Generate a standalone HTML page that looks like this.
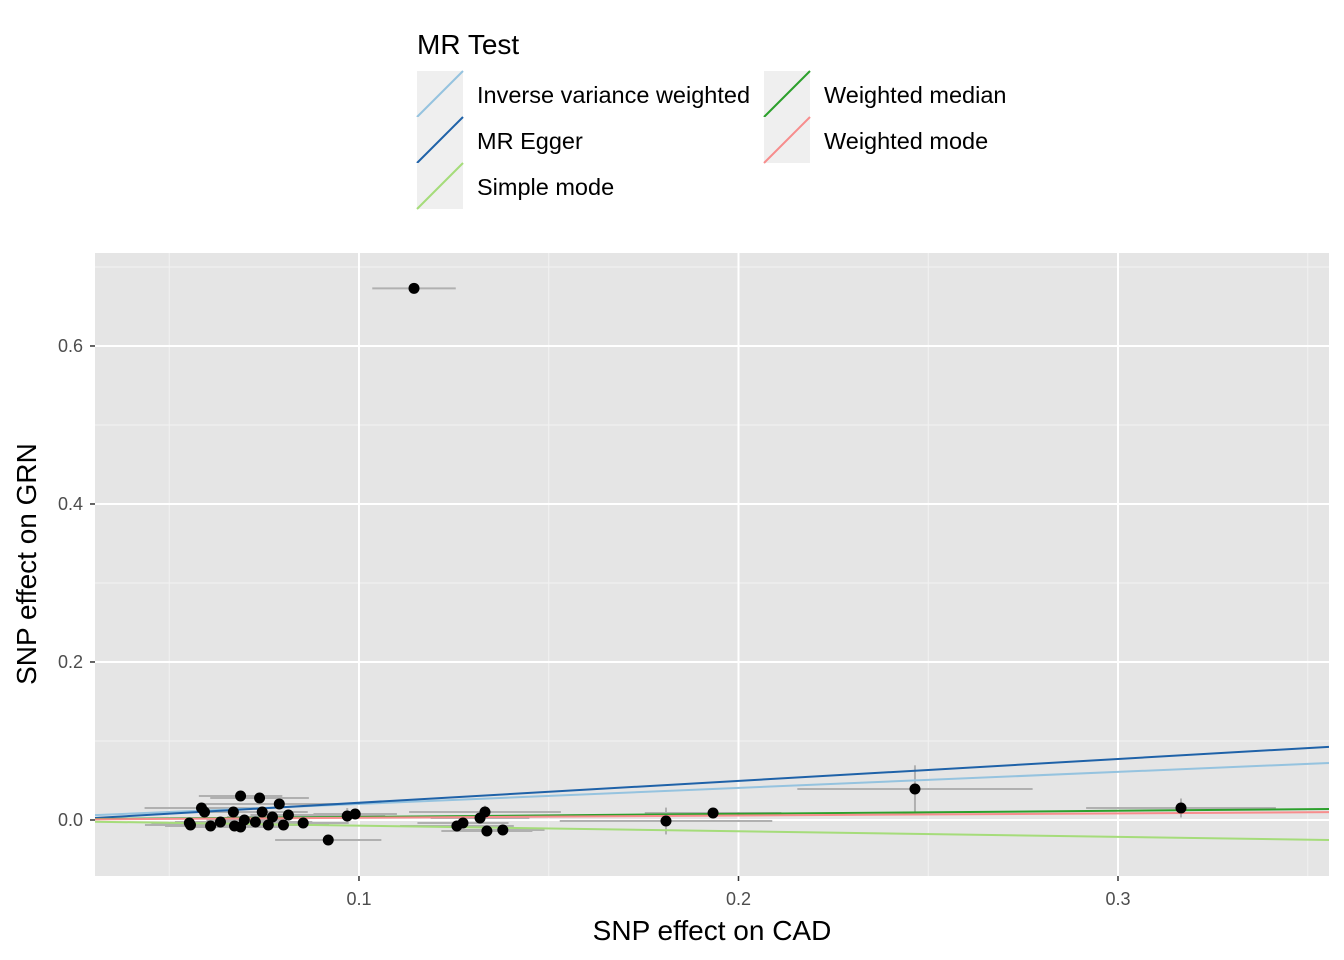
<!DOCTYPE html>
<html><head><meta charset="utf-8"><style>
body{margin:0;background:#fff;font-family:"Liberation Sans",Arial,sans-serif}
svg{display:block}
</style></head><body>
<svg id="chart" width="1344" height="960"></svg>
<script>
const xs=[0.0553,0.0556,0.0585,0.0593,0.0609,0.0635,0.0669,0.0672,0.0688,0.0688,0.0698,0.0727,0.0738,0.0745,0.0761,0.0772,0.079,0.0801,0.0814,0.0853,0.0919,0.0969,0.099,0.1145,0.1258,0.1274,0.1319,0.1332,0.1337,0.1379,0.1809,0.1933,0.2465,0.3166];
const ys=[-0.0038,-0.0063,0.0152,0.0101,-0.0076,-0.0025,0.0101,-0.0076,0.0304,-0.0089,0,-0.0025,0.0278,0.0101,-0.0063,0.0038,0.0203,-0.0063,0.0063,-0.0038,-0.0253,0.0051,0.0076,0.673,-0.0076,-0.0038,0.0025,0.0101,-0.0139,-0.0127,-0.0013,0.0089,0.0392,0.0152];
const sxs=[0.01,0.012,0.015,0.01,0.012,0.012,0.015,0.01,0.011,0.012,0.01,0.015,0.013,0.012,0.01,0.012,0.02,0.012,0.01,0.012,0.014,0.01,0.011,0.011,0.015,0.012,0.013,0.02,0.012,0.011,0.028,0.018,0.031,0.025];
const sys=[0.004,0.004,0.005,0.004,0.004,0.004,0.005,0.004,0.005,0.004,0.004,0.004,0.005,0.004,0.004,0.004,0.005,0.004,0.004,0.004,0.005,0.01,0.005,0.005,0.005,0.005,0.005,0.008,0.005,0.005,0.017,0.006,0.03,0.012];
const methods=["Inverse variance weighted","MR Egger","Simple mode","Weighted median","Weighted mode"];
const slopes=[0.203,0.277,-0.0713,0.039,0.028];
const intercepts=[0,-0.0059,0,0,0];
const colors=["#95c3df","#1f62a8","#a5dc7a","#2ca02c","#f78d8d"];
const xTicks=[0.1,0.2,0.3],xMinor=[0.05,0.15,0.25,0.35];
const yTicks=[0,0.2,0.4,0.6],yMinor=[0.1,0.3,0.5,0.7];
const yTickLabels=["0.0","0.2","0.4","0.6"];
const L=95,R=1329,T=253,B=876,x0=0.03044,x1=0.3556,y0=-0.0709,y1=0.7177;
const X=v=>L+(v-x0)/(x1-x0)*(R-L), Y=v=>B-(v-y0)/(y1-y0)*(B-T);
const svg=document.getElementById('chart'),NS="http://www.w3.org/2000/svg";
function mk(t,a,p){const e=document.createElementNS(NS,t);for(const k in a)e.setAttribute(k,a[k]);(p||svg).appendChild(e);return e;}
let e=mk('rect',{x:L,y:T,width:R-L,height:B-T,fill:'#e5e5e5'});


const clip=mk('clipPath',{id:'c'});mk('rect',{x:L,y:T,width:R-L,height:B-T},clip);
const g=mk('g',{'clip-path':'url(#c)'});


xMinor.forEach(v=>mk('line',{x1:X(v),x2:X(v),y1:T,y2:B,stroke:'#f2f2f2','stroke-width':1},g));
yMinor.forEach(v=>mk('line',{x1:L,x2:R,y1:Y(v),y2:Y(v),stroke:'#f2f2f2','stroke-width':1},g));
xTicks.forEach(v=>mk('line',{x1:X(v),x2:X(v),y1:T,y2:B,stroke:'#fff','stroke-width':2},g));
yTicks.forEach(v=>mk('line',{x1:L,x2:R,y1:Y(v),y2:Y(v),stroke:'#fff','stroke-width':2},g));
xs.forEach((v,i)=>{
 let a=mk('line',{x1:X(v-sxs[i]),x2:X(v+sxs[i]),y1:Y(ys[i]),y2:Y(ys[i]),stroke:'#b0b0b0','stroke-width':2},g);
 
 
 let b=mk('line',{x1:X(v),x2:X(v),y1:Y(ys[i]-sys[i]),y2:Y(ys[i]+sys[i]),stroke:'#b0b0b0','stroke-width':2},g);
 
 
});
methods.forEach((m,i)=>{
 let l=mk('line',{x1:X(x0),x2:X(x1),y1:Y(intercepts[i]+slopes[i]*x0),y2:Y(intercepts[i]+slopes[i]*x1),stroke:colors[i],'stroke-width':2},g);
 
 
});
xs.forEach((v,i)=>{
 let c=mk('circle',{cx:X(v),cy:Y(ys[i]),r:5.5,fill:'#000'},g);
 
 
});
xTicks.forEach(v=>{
 mk('line',{x1:X(v),x2:X(v),y1:B,y2:B+5,stroke:'#333','stroke-width':1.5});
 let t=mk('text',{x:X(v),y:B+29,'text-anchor':'middle','font-size':18,fill:'#4d4d4d'});t.textContent=String(v);
 
 
});
yTicks.forEach((v,i)=>{
 mk('line',{x1:L-5,x2:L,y1:Y(v),y2:Y(v),stroke:'#333','stroke-width':1.5});
 let t=mk('text',{x:L-12,y:Y(v)+6,'text-anchor':'end','font-size':18,fill:'#4d4d4d'});t.textContent=yTickLabels[i];
 
 
});
let xt=mk('text',{x:(L+R)/2,y:940,'text-anchor':'middle','font-size':28,fill:'#000'});xt.textContent='SNP effect on CAD';


let yt=mk('text',{x:0,y:0,transform:'translate(36,564) rotate(-90)','text-anchor':'middle','font-size':28,fill:'#000'});yt.textContent='SNP effect on GRN';


let lt=mk('text',{x:417,y:54,'font-size':28,fill:'#000'});lt.textContent='MR Test';


const pos=[[417,71],[417,117],[417,163],[764,71],[764,117]];
methods.forEach((m,i)=>{
 const [px,py]=pos[i];
 const lg=mk('g',{});
 
 
 mk('rect',{x:px,y:py,width:46,height:46,fill:'#efefef'},lg);
 mk('line',{x1:px,x2:px+46,y1:py+46,y2:py,stroke:colors[i],'stroke-width':2},lg);
 let t=mk('text',{x:px+60,y:py+32,'font-size':23.5,fill:'#000'},lg);t.textContent=m;
});
</script>
</body></html>
